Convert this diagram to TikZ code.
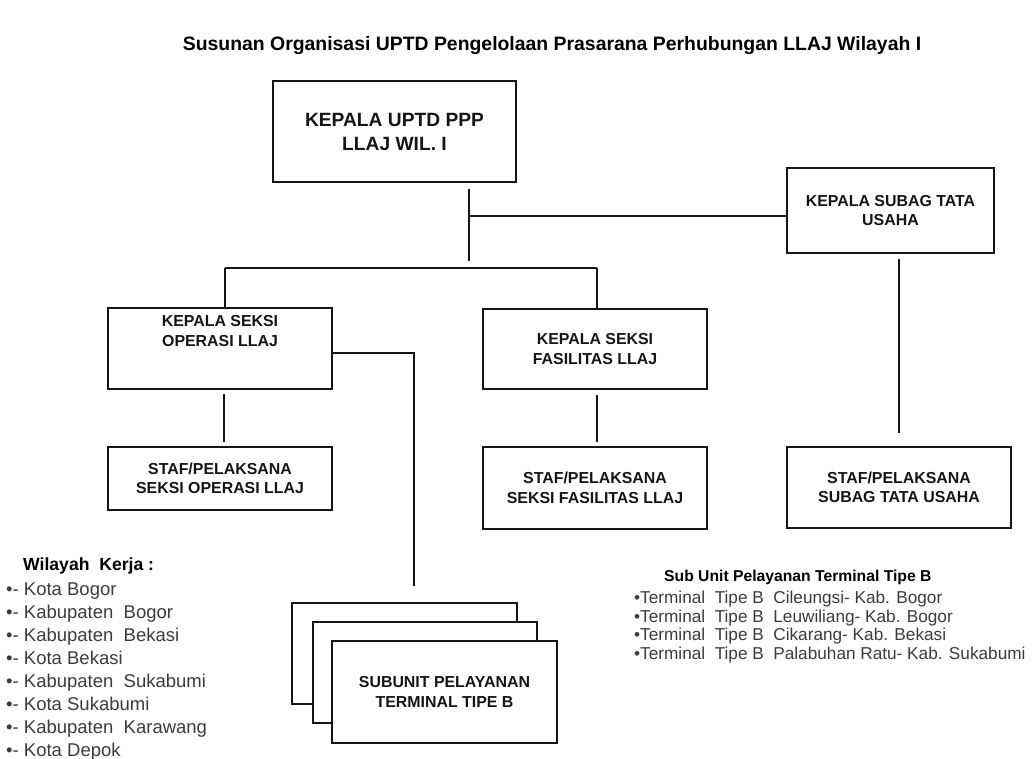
\documentclass[tikz,border=0pt]{standalone}
\usepackage{fontspec}
\setmainfont{Liberation Sans}
\definecolor{ink}{HTML}{151515}
\definecolor{listgray}{HTML}{3C3C3C}
\tikzset{
  x=1pt, y=-1pt,
  orgbox/.style={draw=ink, line width=1.6pt, fill=white, inner sep=0pt},
  btxt/.style={font=\bfseries\fontsize{15.9}{19.5}\selectfont, align=center, inner sep=0pt, text=ink},
  bigtxt/.style={font=\bfseries\fontsize{19.2}{24}\selectfont, align=center, inner sep=0pt, text=ink},
  conn/.style={draw=ink, line width=1.4pt},
  litem/.style={font=\fontsize{18.5}{22}\selectfont, text=listgray, inner sep=0pt, anchor=base west},
  ritem/.style={font=\fontsize{17.2}{20}\selectfont, text=listgray, inner sep=0pt, anchor=base west},
}
\begin{document}
\begin{tikzpicture}
\useasboundingbox[fill=white] (0,0) rectangle (1032,758);

% title
\node[font=\bfseries\fontsize{19.4}{23}\selectfont, anchor=base, inner sep=0pt, text=black] (title) at (552,50)
  {Susunan Organisasi UPTD Pengelolaan Prasarana Perhubungan LLAJ Wilayah I};

% boxes
\node[orgbox, bigtxt, minimum width=243, minimum height=101] (kepala) at (394.5,131.5)
  {KEPALA UPTD PPP\\LLAJ WIL. I};
\node[orgbox, btxt, minimum width=207, minimum height=85] (subag) at (890.5,210.5)
  {KEPALA SUBAG TATA\\USAHA};
\node[orgbox, minimum width=224, minimum height=81] (operasi) at (220,348.5) {};
\node[btxt] (operasitxt) at (220,331) {KEPALA SEKSI\\OPERASI LLAJ};
\node[orgbox, btxt, minimum width=224, minimum height=80] (fasilitas) at (595,349)
  {KEPALA SEKSI\\FASILITAS LLAJ};
\node[orgbox, btxt, minimum width=224, minimum height=63] (stafop) at (220,478.5)
  {STAF/PELAKSANA\\SEKSI OPERASI LLAJ};
\node[orgbox, btxt, minimum width=224, minimum height=82] (staffas) at (595,488)
  {STAF/PELAKSANA\\SEKSI FASILITAS LLAJ};
\node[orgbox, btxt, minimum width=224, minimum height=81] (stafsub) at (899,487.5)
  {STAF/PELAKSANA\\SUBAG TATA USAHA};

% subunit stacked cards
\node[orgbox, minimum width=225, minimum height=101] (card3) at (404.5,653.5) {};
\node[orgbox, minimum width=224, minimum height=101] (card2) at (425,672.5) {};
\node[orgbox, btxt, minimum width=225, minimum height=102] (subunit) at (444.5,692)
  {SUBUNIT PELAYANAN\\TERMINAL TIPE B};

% junction coordinates
\coordinate (jv) at (469,268);
\coordinate (jt) at (469,216);
\coordinate (jl) at (225,268);
\coordinate (jr) at (597,268);
\coordinate (jo) at (414,353);

% connectors
\draw[conn, shorten <=6pt, shorten >=7pt] (kepala.south -| jv) -- (jv);
\draw[conn] (jt) -- (jt -| subag.west);
\draw[conn] (jl) -- (jr);
\draw[conn] (jl) -- (jl |- operasi.north);
\draw[conn] (jr) -- (jr |- fasilitas.north);
\draw[conn, shorten <=4pt, shorten >=4pt] (operasi.south -| 224,0) -- (stafop.north -| 224,0);
\draw[conn, shorten <=5pt, shorten >=4pt] (fasilitas.south -| jr) -- (staffas.north -| jr);
\draw[conn, shorten <=5pt, shorten >=13pt] (subag.south -| stafsub.north) -- (stafsub.north);
\draw[conn, shorten >=16pt] (operasi.east |- jo) -- (jo) -- (jo |- card3.north);

% left list
\node[font=\bfseries\fontsize{17.6}{21}\selectfont, text=black, inner sep=0pt, anchor=base west] (wk) at (23,570) {Wilayah\ \ Kerja :};
\node[litem] (w1) at (6,595) {•- Kota Bogor};
\node[litem] (w2) at (6,618) {•- Kabupaten\ \ Bogor};
\node[litem] (w3) at (6,641) {•- Kabupaten\ \ Bekasi};
\node[litem] (w4) at (6,664) {•- Kota Bekasi};
\node[litem] (w5) at (6,687) {•- Kabupaten\ \ Sukabumi};
\node[litem] (w6) at (6,710) {•- Kota Sukabumi};
\node[litem] (w7) at (6,733) {•- Kabupaten\ \ Karawang};
\node[litem] (w8) at (6,756) {•- Kota Depok};

% right list
\node[font=\bfseries\fontsize{15.7}{19}\selectfont, text=black, inner sep=0pt, anchor=base west] (sh) at (664,581) {Sub Unit Pelayanan Terminal Tipe B};
\node[ritem] (t1) at (634,603) {•Terminal\ \ Tipe B\ \ Cileungsi- Kab. Bogor};
\node[ritem] (t2) at (634,622) {•Terminal\ \ Tipe B\ \ Leuwiliang- Kab. Bogor};
\node[ritem] (t3) at (634,640.5) {•Terminal\ \ Tipe B\ \ Cikarang- Kab. Bekasi};
\node[ritem] (t4) at (634,659) {•Terminal\ \ Tipe B\ \ Palabuhan Ratu- Kab. Sukabumi};
\end{tikzpicture}
\end{document}
